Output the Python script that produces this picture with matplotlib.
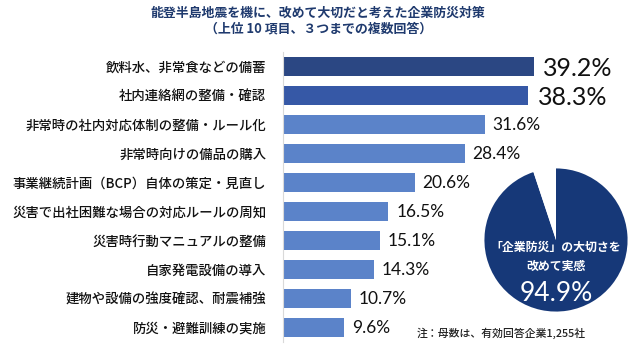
import numpy as np
import matplotlib
matplotlib.use("Agg")
from matplotlib import pyplot as plt

plt.rcParams['font.family'] = ['Noto Sans CJK JP', 'DejaVu Sans']

# data
categories = [
    "飲料水、非常食などの備蓄",
    "社内連絡網の整備・確認",
    "非常時の社内対応体制の整備・ルール化",
    "非常時向けの備品の購入",
    "事業継続計画（BCP）自体の策定・見直し",
    "災害で出社困難な場合の対応ルールの周知",
    "災害時行動マニュアルの整備",
    "自家発電設備の導入",
    "建物や設備の強度確認、耐震補強",
    "防災・避難訓練の実施",
]
values = [39.2, 38.3, 31.6, 28.4, 20.6, 16.5, 15.1, 14.3, 10.7, 9.6]
pie_values = [94.9, 5.1]

title = "能登半島地震を機に、改めて大切だと考えた企業防災対策\n（上位 10 項目、３つまでの複数回答）"
note = "注：母数は、有効回答企業1,255社"

bar_colors = ["#2b4783", "#3658a6"] + ["#5b83c9"] * 8
navy = "#163878"

fig = plt.figure(figsize=(6.4, 3.53), dpi=100)

fig.text(0.497, 0.985, title, ha="center", va="top", fontsize=9.3,
         fontweight="bold", color="#1f3a6e", linespacing=1.15)

# bar chart
ax = fig.add_axes([0.442, 0.031, 0.558, 0.8215])
y = np.arange(len(categories))
ax.barh(y, values, height=0.66, color=bar_colors)
ax.set_ylim(len(categories) - 0.5, -0.5)
ax.set_xlim(0, 55.8)
ax.set_yticks(y)
ax.set_yticklabels(categories, fontsize=9.6, color="#111111", fontweight="medium")
ax.tick_params(axis="y", length=0, pad=12)
ax.set_xticks([])
for s in ["top", "right", "bottom"]:
    ax.spines[s].set_visible(False)
ax.spines["left"].set_color("#d9d9d9")
ax.spines["left"].set_linewidth(0.8)

for i, v in enumerate(values):
    big = i < 2
    ax.text(v + (1.5 if big else 1.2), i + (0.05 if big else 0.02), f"{v}%",
            va="center", ha="left", fontsize=18 if big else 12.5,
            family=["Lato", "DejaVu Sans"], color="#111111")

# pie
pax = fig.add_axes([(556 - 73) / 640, 1 - (240 + 73) / 353, 146 / 640, 146 / 353])
pax.pie(pie_values, colors=[navy, "white"], startangle=90, counterclock=False,
        wedgeprops=dict(linewidth=0))
pax.set_xlim(-1.02, 1.02)
pax.set_ylim(-1.02, 1.02)
pax.set_aspect("equal")
pax.axis("off")
pax.text(0.0, -0.1, "「企業防災」の大切さを", ha="center", va="center",
         fontsize=8.6, color="white", fontweight="bold", clip_on=False)
pax.text(0.0, -0.37, "改めて実感", ha="center", va="center",
         fontsize=8.6, color="white", fontweight="bold")
pax.text(0.0, -0.75, "94.9%", ha="center", va="center", fontsize=19,
         family=["Lato", "DejaVu Sans"], color="white")

fig.text(417 / 640, 1 - 333 / 353, note, ha="left", va="center",
         fontsize=7.8, color="#222222", fontweight="medium")

fig.savefig("out.png", dpi=100)
